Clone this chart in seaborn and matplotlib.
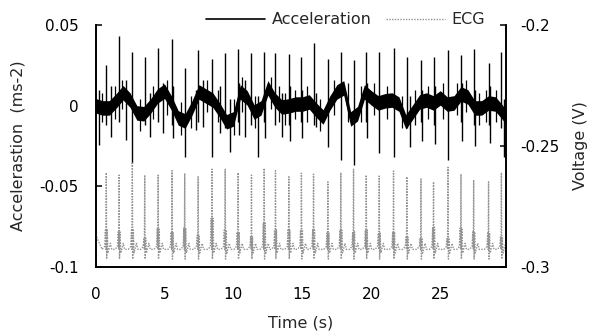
import pandas as pd
import matplotlib
matplotlib.use('Agg')
import matplotlib.pyplot as plt
from matplotlib.lines import Line2D
import seaborn as sns

sns.set_style('white')
plt.rcParams['font.family'] = ['DejaVu Sans']
plt.rcParams['axes.unicode_minus'] = False

# slow component of the acceleration trace (read every 0.5 s)
trend_t = [0.0, 0.5, 1.0, 1.5, 2.0, 2.5, 3.0, 3.5, 4.0, 4.5,
           5.0, 5.5, 6.0, 6.5, 7.0, 7.5, 8.0, 8.5, 9.0, 9.5,
           10.0, 10.5, 11.0, 11.5, 12.0, 12.5, 13.0, 13.5, 14.0, 14.5,
           15.0, 15.5, 16.0, 16.5, 17.0, 17.5, 18.0, 18.5, 19.0, 19.5,
           20.0, 20.5, 21.0, 21.5, 22.0, 22.5, 23.0, 23.5, 24.0, 24.5,
           25.0, 25.5, 26.0, 26.5, 27.0, 27.5, 28.0, 28.5, 29.0, 29.5, 29.8]
trend_v = [0.000, -0.0014, -0.0014, 0.003, 0.008, 0.0035, -0.0045, -0.005, -0.0002, 0.006,
           0.009, 0.0017, -0.0076, -0.0095, -0.0014, 0.0085, 0.006, 0.0035, -0.0027, -0.010,
           -0.0082, 0.0085, 0.0048, -0.0039, -0.0014, 0.011, 0.0035, -0.0008, -0.0002, 0.001,
           0.001, 0.0023, -0.0027, -0.007, 0.0017, 0.0085, 0.011, -0.0082, -0.005, 0.0085,
           0.0048, 0.0017, 0.003, 0.0035, 0.001, -0.010, -0.004, 0.0023, 0.0035, 0.0017,
           0.0048, 0.001, 0.0017, 0.0073, 0.0054, -0.0014, -0.0014, 0.0017, 0.001, -0.004, -0.0076]
band_half = 0.0045  # half thickness of the noisy black band

# heart beats (R peaks) and the big acceleration spike at each beat
beat_t = [0.78, 1.71, 2.67, 3.57, 4.54, 5.55, 6.47, 7.44, 8.45, 9.40,
          10.34, 11.31, 12.23, 13.05, 14.02, 14.93, 15.81, 16.85, 17.79, 18.71,
          19.63, 20.57, 21.61, 22.58, 23.60, 24.51, 25.56, 26.50, 27.42, 28.50, 29.43]
beat_top = [0.0252, 0.0432, 0.0333, 0.0302, 0.0358, 0.0414, 0.0234, 0.0345, 0.0290, 0.0327,
            0.0352, 0.0327, 0.0333, 0.0327, 0.0320, 0.0300, 0.0386, 0.0290, 0.0330, 0.0283,
            0.0333, 0.0333, 0.0358, 0.0302, 0.0283, 0.0302, 0.0345, 0.0314, 0.0352, 0.0265, 0.0330]
beat_low = [-0.012, -0.010, -0.0355, -0.012, -0.010, -0.012, -0.0318, -0.010, -0.0318, -0.014,
            -0.010, -0.012, -0.010, -0.012, -0.012, -0.010, -0.012, -0.0256, -0.0337, -0.0368,
            -0.010, -0.0293, -0.0318, -0.014, -0.010, -0.012, -0.0337, -0.010, -0.012, -0.012, -0.014]

# smaller spikes between beats (mostly downward)
minor_t = [0.25, 1.15, 2.24, 3.93, 4.90, 5.62, 7.31, 7.80, 9.00, 9.78,
           10.40, 10.83, 11.80, 12.30, 13.50, 14.10, 15.00, 16.00, 19.70, 22.80,
           23.70, 24.60, 26.60, 27.50, 28.60, 29.60]
minor_low = [-0.0244, -0.0194, -0.0213, -0.0194, -0.0169, -0.0200, -0.0150, -0.0132, -0.0169, -0.0287,
             -0.0180, -0.0194, -0.0318, -0.0200, -0.0194, -0.0220, -0.0200, -0.0132, -0.0200, -0.0256,
             -0.0220, -0.0240, -0.0220, -0.0250, -0.0230, -0.0318]
minor_top = [0.010, 0.012, 0.016, 0.008, 0.014, 0.012, 0.010, 0.016, 0.012, 0.004,
             0.014, 0.016, 0.006, 0.010, 0.008, 0.012, 0.010, 0.008, 0.014, 0.006,
             0.010, 0.012, 0.014, 0.010, 0.012, 0.004]

# short hairlines that roughen the band
hair_t = [0.45, 1.40, 1.95, 3.25, 4.20, 5.20, 6.20, 6.90, 8.10, 8.85,
          10.05, 10.65, 11.55, 12.70, 13.30, 13.75, 14.50, 15.35, 16.30, 17.30,
          18.30, 19.25, 20.20, 21.10, 22.20, 23.20, 24.10, 25.20, 26.20, 26.90,
          27.80, 28.30, 29.05]
hair_low = [-0.010, -0.008, -0.002, -0.016, -0.008, -0.006, -0.018, -0.014, -0.004, -0.010,
            -0.018, -0.004, -0.014, -0.002, -0.010, -0.012, -0.008, -0.010, -0.016, -0.006,
            -0.010, -0.010, -0.006, -0.008, -0.014, -0.012, -0.008, -0.008, -0.006, -0.004,
            -0.012, -0.010, -0.010]
hair_top = [0.008, 0.012, 0.016, 0.004, 0.012, 0.016, 0.002, 0.006, 0.016, 0.010,
            0.004, 0.018, 0.006, 0.018, 0.012, 0.008, 0.010, 0.012, 0.004, 0.016,
            0.014, 0.012, 0.014, 0.012, 0.006, 0.010, 0.012, 0.014, 0.014, 0.016,
            0.008, 0.010, 0.010]

# ECG (V)
ecg_peak = [-0.2610, -0.2620, -0.2566, -0.2620, -0.2620, -0.2602, -0.2613, -0.2627, -0.2596, -0.2596,
            -0.2610, -0.2620, -0.2592, -0.2602, -0.2627, -0.2612, -0.2616, -0.2648, -0.2610, -0.2596,
            -0.2620, -0.2624, -0.2603, -0.2627, -0.2636, -0.2648, -0.2588, -0.2616, -0.2640, -0.2648, -0.2610]
ecg_cluster = [-0.2847, -0.2855, -0.2847, -0.2880, -0.2839, -0.2855, -0.2839, -0.2868, -0.2798, -0.2847,
               -0.2855, -0.2876, -0.2818, -0.2847, -0.2847, -0.2847, -0.2847, -0.2860, -0.2847, -0.2855,
               -0.2847, -0.2860, -0.2855, -0.2876, -0.2880, -0.2835, -0.2880, -0.2839, -0.2855, -0.2860, -0.2876]
ecg_base = -0.2927
ecg_start = -0.2865
ecg_end = -0.2905
# one beat of the ECG around the R peak: time offset (s), level above baseline (V)
beat_dt = [-0.30, -0.12, -0.06, -0.03, 0.00, 0.03, 0.07, 0.12, 0.30, 0.40]
beat_dv = [0.0, 0.0012, None, 0.0, 'peak', -0.004, None, -0.0015, 0.0025, 0.0]

acc = pd.DataFrame({'t': trend_t, 'v': trend_v})

ecg_rows = [(0.0, ecg_start)]
for bt, pk, cl in zip(beat_t, ecg_peak, ecg_cluster):
    for dt, dv in zip(beat_dt, beat_dv):
        if dv == 'peak':
            v = pk
        elif dv is None:
            v = cl
        else:
            v = ecg_base + dv
        ecg_rows.append((bt + dt, v))
ecg_rows.append((29.8, ecg_end))
ecg = pd.DataFrame(ecg_rows, columns=['t', 'v'])

fig, ax = plt.subplots(figsize=(5.91, 3.33), dpi=100)
fig.subplots_adjust(left=0.1616, right=0.857, bottom=0.198, top=0.925)

lo = [v - band_half for v in trend_v]
hi = [v + band_half for v in trend_v]
ax.fill_between(trend_t, lo, hi, color='black', lw=0)
sns.lineplot(data=acc, x='t', y='v', ax=ax, color='black', lw=1.2,
             sort=True, estimator=None)
ax.vlines(hair_t, hair_low, hair_top, color='black', lw=0.9)
ax.vlines(minor_t, minor_low, minor_top, color='black', lw=1.0)
ax.vlines(beat_t, beat_low, beat_top, color='black', lw=1.0)

ax2 = ax.twinx()
sns.lineplot(data=ecg, x='t', y='v', ax=ax2, color='#939393', lw=1.0,
             linestyle=(0, (1, 1)), sort=True, estimator=None)

ax.set_xlim(0, 29.8)
ax.set_ylim(-0.1, 0.05)
ax2.set_ylim(-0.3, -0.2)

ax.set_xticks([0, 5, 10, 15, 20, 25])
ax.set_xticklabels(['0', '5', '10', '15', '20', '25'])
ax.set_yticks([-0.1, -0.05, 0, 0.05])
ax.set_yticklabels(['-0.1', '-0.05', '0', '0.05'])
ax2.set_yticks([-0.3, -0.25, -0.2])
ax2.set_yticklabels(['-0.3', '-0.25', '-0.2'])

for a in (ax, ax2):
    a.spines['top'].set_visible(False)
    for s in ('left', 'right', 'bottom'):
        a.spines[s].set_linewidth(1.2)
        a.spines[s].set_color('black')
    a.grid(False)

ax.tick_params(axis='x', direction='in', length=4, width=1.1, pad=14, labelsize=11, colors='black')
ax.tick_params(axis='y', direction='in', length=4, width=1.1, pad=12, labelsize=11, colors='black')
ax2.tick_params(axis='y', direction='in', length=4, width=1.1, pad=10, labelsize=11, colors='black')

ax.set_xlabel('Time (s)', fontsize=11.5)
ax.set_ylabel('Accelerastion  (ms-2)', fontsize=11.5)
ax2.set_ylabel('Voltage (V)', fontsize=11.5)
ax.xaxis.set_label_coords(0.5, -0.20)
ax.yaxis.set_label_coords(-0.17, 0.5)
ax2.yaxis.set_label_coords(1.161, 0.5)

handles = [Line2D([], [], color='black', lw=1.2),
           Line2D([], [], color='#939393', lw=1.0, linestyle=(0, (1, 1)))]
fig.legend(handles, ['Acceleration', 'ECG'], loc='center', bbox_to_anchor=(0.585, 0.94),
           ncol=2, frameon=False, fontsize=11.5, handlelength=3.7, handletextpad=0.4,
           columnspacing=0.9, borderpad=0, borderaxespad=0)

fig.savefig('out.png', dpi=100)
